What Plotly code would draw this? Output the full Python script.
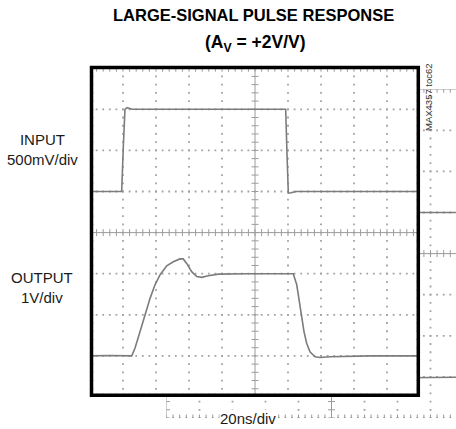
import numpy as np
import plotly.graph_objects as go

W, H = 456, 429

# Scope settings
T_DIV = 20.0          # ns/div
N_XDIV = 10
N_YDIV = 8
IN_VDIV = 0.5         # V/div (input)
OUT_VDIV = 1.0        # V/div (output)
IN_ZERO_DIV = 1       # input 0V level, divisions above centre
OUT_ZERO_DIV = -3     # output 0V level, divisions above centre

# Input pulse (time in ns, amplitude in V)
in_t = [0, 19.2, 20.2, 21.2, 22.5, 25.5, 60, 118.6, 119.4, 120.2, 121.8, 125, 160, 200]
in_v = [0, 0, 0.55, 1.0, 1.02, 1.0, 1.0, 1.0, 0.45, -0.02, -0.015, 0, 0, 0]

# Output response (time in ns, amplitude in V)
out_t = [0, 12, 25.3, 27.3, 30.3, 33.3, 36.4, 39.4, 42.4, 46.5, 50.5, 54.5, 56.5,
         58.6, 61.6, 64.7, 67.7, 71.7, 77.8, 95, 123.2, 125.3, 126.8, 128.3,
         129.7, 131.3, 133.3, 136.4, 139.4, 145.5, 170, 200]
out_v = [0, 0.01, 0, 0.19, 0.59, 1.0, 1.4, 1.73, 1.97, 2.19, 2.29, 2.36, 2.36,
         2.25, 2.05, 1.93, 1.91, 1.95, 1.99, 2.0, 2.0, 1.73, 1.36, 0.95,
         0.59, 0.31, 0.1, -0.02, -0.04, -0.02, 0, 0]

TRACE = "#7c7c7c"
GRID_DOT = "#a2a2a2"
AXIS_C = "#9c9c9c"

T_SPAN = T_DIV * N_XDIV
IN_RANGE = [(-N_YDIV / 2 - IN_ZERO_DIV) * IN_VDIV, (N_YDIV / 2 - IN_ZERO_DIV) * IN_VDIV]
OUT_RANGE = [(-N_YDIV / 2 - OUT_ZERO_DIV) * OUT_VDIV, (N_YDIV / 2 - OUT_ZERO_DIV) * OUT_VDIV]


def px(x):
    return x / W


def py(y):
    return 1 - y / H


# screen rectangle (pixels) and the ghosted copy behind it
SX0, SX1, SY0, SY1 = 90.0, 420.0, 68.2, 397.0
DX, DY = 76.5, 21.0
CX0 = SX0 + DX
copy_t_end = (W - CX0) / (SX1 - SX0) * T_SPAN


def grid_traces(xa, ya):
    lo, hi = IN_RANGE
    xs_minor = np.round(np.arange(0, T_SPAN + 1e-9, T_DIV / 5), 6)
    ys_minor = np.round(np.arange(lo, hi + 1e-9, IN_VDIV / 5), 6)
    x_major = [T_DIV * k for k in range(N_XDIV + 1)]
    y_major = [lo + IN_VDIV * j for j in range(N_YDIV + 1)]
    xc, yc = x_major[N_XDIV // 2], y_major[N_YDIV // 2]
    common = dict(xaxis=xa, yaxis=ya, hoverinfo="skip", showlegend=False)
    out = []
    dx, dy = [], []
    for k in range(1, N_XDIV + 1):
        if k == N_XDIV // 2:
            continue
        dx += [x_major[k]] * len(ys_minor)
        dy += list(ys_minor)
    for j in range(0, N_YDIV):
        if j == N_YDIV // 2:
            continue
        dx += list(xs_minor)
        dy += [y_major[j]] * len(xs_minor)
    out.append(go.Scatter(x=dx, y=dy, mode="markers",
                          marker=dict(symbol="square", size=1.8, color=GRID_DOT, line_width=0),
                          **common))
    # centre axes, top and left border
    out.append(go.Scatter(x=[0, T_SPAN, None, xc, xc, None, 0, T_SPAN, None, 0, 0],
                          y=[yc, yc, None, lo, hi, None, hi, hi, None, lo, hi],
                          mode="lines", line=dict(color=AXIS_C, width=1), **common))
    # minor ticks on the centre axes and borders
    tx = list(xs_minor) + list(xs_minor) + list(xs_minor)
    ty = [yc] * len(xs_minor) + [hi] * len(xs_minor) + [lo] * len(xs_minor)
    out.append(go.Scatter(x=tx, y=ty, mode="markers",
                          marker=dict(symbol="line-ns", size=5, line=dict(color=AXIS_C, width=1)),
                          **common))
    ex = [xc] * len(ys_minor) + [0] * len(ys_minor) + [T_SPAN] * len(ys_minor)
    ey = list(ys_minor) * 3
    out.append(go.Scatter(x=ex, y=ey, mode="markers",
                          marker=dict(symbol="line-ew", size=5, line=dict(color=AXIS_C, width=1)),
                          **common))
    return out


def signal_traces(xa, ya_in, ya_out):
    return [
        go.Scatter(x=in_t, y=in_v, mode="lines", line=dict(color=TRACE, width=1.6),
                   xaxis=xa, yaxis=ya_in, hoverinfo="skip", showlegend=False),
        go.Scatter(x=out_t, y=out_v, mode="lines", line=dict(color=TRACE, width=1.6),
                   xaxis=xa, yaxis=ya_out, hoverinfo="skip", showlegend=False),
    ]


data = []
# ghost copy (drawn first, underneath)
data += grid_traces("x", "y")
data += signal_traces("x", "y", "y2")
# main screen
data += grid_traces("x2", "y3")
data += signal_traces("x2", "y3", "y4")

fig = go.Figure(data=data)

hidden = dict(visible=False, fixedrange=True, showgrid=False, zeroline=False)
fig.update_layout(
    width=W, height=H, autosize=False,
    margin=dict(l=0, r=0, t=0, b=0),
    paper_bgcolor="white", plot_bgcolor="white",
    showlegend=False,
    xaxis=dict(domain=[px(CX0), 1], range=[0, copy_t_end], anchor="y", **hidden),
    yaxis=dict(domain=[py(SY1 + DY), py(SY0 + DY)], range=IN_RANGE, anchor="x", **hidden),
    yaxis2=dict(domain=[py(SY1 + DY), py(SY0 + DY)], range=OUT_RANGE, overlaying="y", anchor="x", **hidden),
    xaxis2=dict(domain=[px(SX0), px(SX1)], range=[0, T_SPAN], anchor="y3", **hidden),
    yaxis3=dict(domain=[py(SY1), py(SY0)], range=IN_RANGE, anchor="x2", **hidden),
    yaxis4=dict(domain=[py(SY1), py(SY0)], range=OUT_RANGE, overlaying="y3", anchor="x2", **hidden),
)

# heavy black frame
fig.add_shape(type="rect", xref="paper", yref="paper",
              x0=px(91.5), x1=px(418.3), y0=py(395.3), y1=py(67.5),
              line=dict(color="black", width=3.5), fillcolor="rgba(0,0,0,0)", layer="above")

FONT = "Liberation Sans, Arial, sans-serif"


def label(text, x, y, size, color="#1a1a1a", bold=False, angle=0, bg=None):
    fig.add_annotation(text=text, xref="paper", yref="paper", x=px(x), y=py(y),
                       xanchor="center", yanchor="middle", showarrow=False,
                       textangle=angle, bgcolor=bg, borderpad=0,
                       font=dict(family=FONT, size=size, color=color,
                                 weight="bold" if bold else "normal"))


label("LARGE-SIGNAL PULSE RESPONSE", 254, 15, 16.5, color="black", bold=True)
label("(A<sub>V</sub> = +2V/V)", 255, 44, 17.5, color="black", bold=True)
label("INPUT<br>500mV/div", 42, 150, 15)
label("OUTPUT<br>1V/div", 42, 287, 15)
label("20ns/div", 248, 418, 15, bg="white")
label("MAX4357 toc62", 428, 97, 9.5, color="#333333", angle=-90)

fig.write_html("out.html")
